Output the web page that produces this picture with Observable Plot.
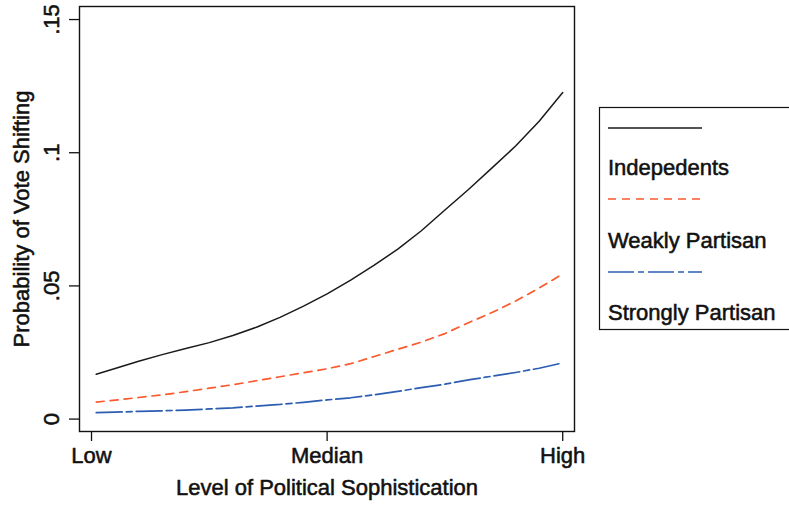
<!DOCTYPE html>
<html>
<head>
<meta charset="utf-8">
<script src="https://cdn.jsdelivr.net/npm/d3@7"></script>
<script src="https://cdn.jsdelivr.net/npm/@observablehq/plot@0.6"></script>
<style>
  html, body { margin: 0; padding: 0; background: #fff; }
  #wrap { position: relative; width: 789px; height: 505px; overflow: hidden; font-family: "Liberation Sans", Arial, sans-serif; }
  #legend { position: absolute; left: 0; top: 0; pointer-events: none; }
</style>
</head>
<body>
<div id="wrap"></div>
<script>
// Level of political sophistication (Low = 0, Median = 50, High = 100)
const sophistication = [1, 5, 10, 15, 20, 25, 30, 35, 40, 45, 50, 55, 60, 65, 70, 75, 80, 85, 90, 95, 100];
// Probability of vote shifting, by partisanship
const independents   = [0.0168, 0.0190, 0.0217, 0.0242, 0.0265, 0.0287, 0.0314, 0.0345, 0.0382, 0.0424, 0.0470, 0.0522, 0.0578, 0.0638, 0.0707, 0.0785, 0.0862, 0.0943, 0.1025, 0.1118, 0.1226];
const weaklyPartisan = [0.0064, 0.0071, 0.0081, 0.0091, 0.0103, 0.0116, 0.0129, 0.0144, 0.0159, 0.0174, 0.0189, 0.0208, 0.0235, 0.0262, 0.0289, 0.0321, 0.0362, 0.0400, 0.0443, 0.0492, 0.0545];
const stronglyPartisan = [0.0024, 0.0026, 0.0029, 0.0031, 0.0034, 0.0038, 0.0042, 0.0049, 0.0055, 0.0063, 0.0072, 0.0080, 0.0091, 0.0104, 0.0118, 0.0131, 0.0147, 0.0161, 0.0175, 0.0191, 0.0211];

const seriesNames = ["Indepedents", "Weakly Partisan", "Strongly Partisan"];
const seriesValues = [independents, weaklyPartisan, stronglyPartisan];

const xTickValues = [0, 50, 100];
const xTickLabels = ["Low", "Median", "High"];
const yTickValues = [0, 0.05, 0.1, 0.15];
const yTickLabels = ["0", ".05", ".1", ".15"];

const xTitle = "Level of Political Sophistication";
const yTitle = "Probability of Vote Shifting";

const styles = {
  "Indepedents":       {stroke: "#1a1a1a", dash: null, width: 1.5},
  "Weakly Partisan":   {stroke: "#fa5a2e", dash: "8,6", width: 1.7},
  "Strongly Partisan": {stroke: "#2c5db2", dash: "26,4,6,4", width: 1.7}
};

const rows = seriesNames.flatMap((name, s) =>
  sophistication.map((x, i) => ({series: name, x, y: seriesValues[s][i]}))
);

const W = 789, H = 505;
const frameL = 79, frameR = 574, frameT = 6, frameB = 431;
const font = "'Liberation Sans', Arial, sans-serif";
const ink = "#111";
const textStroke = {fill: ink, stroke: ink, strokeWidth: 0.55};

const chart = Plot.plot({
  width: W,
  height: H,
  marginLeft: frameL,
  marginRight: W - frameR,
  marginTop: frameT,
  marginBottom: H - frameB,
  style: {fontFamily: font, fontSize: "22px", color: ink, background: "white"},
  x: {domain: [-2.55, 102.5]},
  y: {domain: [-0.00466, 0.1549]},
  marks: [
    Plot.axisX(xTickValues, {tickSize: 10, tickFormat: () => "", stroke: ink, strokeWidth: 1.3, label: null}),
    Plot.axisY(yTickValues, {tickSize: 10, tickFormat: () => "", stroke: ink, strokeWidth: 1.3, label: null}),
    Plot.text(xTickValues, {x: d => d, text: (d, i) => xTickLabels[i], frameAnchor: "bottom", dy: 31, lineAnchor: "bottom", fontSize: 22, ...textStroke}),
    Plot.text(yTickValues, {y: d => d, text: (d, i) => yTickLabels[i], frameAnchor: "left", dx: -21, rotate: -90, textAnchor: "middle", lineAnchor: "bottom", fontSize: 22, ...textStroke}),
    Plot.text([xTitle], {text: d => d, frameAnchor: "bottom", dy: 63, lineAnchor: "bottom", fontSize: 22, ...textStroke}),
    Plot.text([yTitle], {text: d => d, frameAnchor: "left", dx: -51, rotate: -90, textAnchor: "middle", lineAnchor: "bottom", fontSize: 22, ...textStroke}),
    ...seriesNames.map(name =>
      Plot.line(rows.filter(r => r.series === name), {
        x: "x", y: "y",
        stroke: styles[name].stroke,
        strokeWidth: styles[name].width,
        strokeDasharray: styles[name].dash
      })
    ),
    Plot.frame({stroke: ink, strokeWidth: 1.4})
  ]
});

const wrap = document.getElementById("wrap");
wrap.appendChild(chart);

// Legend (Stata style, boxed, to the right of the plot)
const ns = "http://www.w3.org/2000/svg";
const leg = document.createElementNS(ns, "svg");
leg.setAttribute("id", "legend");
leg.setAttribute("width", W);
leg.setAttribute("height", H);
function el(tag, attrs, txt) {
  const e = document.createElementNS(ns, tag);
  for (const k in attrs) e.setAttribute(k, attrs[k]);
  if (txt != null) e.textContent = txt;
  leg.appendChild(e);
  return e;
}
el("rect", {x: 599.5, y: 107.5, width: 220, height: 222, fill: "white", stroke: ink, "stroke-width": 1.2});
const keyY = [128, 199, 272];
const labelY = [175, 248, 320];
seriesNames.forEach((name, i) => {
  const st = styles[name];
  const attrs = {x1: 608, x2: 702, y1: keyY[i], y2: keyY[i], stroke: st.stroke, "stroke-width": st.width};
  if (st.dash) attrs["stroke-dasharray"] = st.dash;
  el("line", attrs);
  el("text", {x: 608, y: labelY[i], "font-family": font, "font-size": 22, fill: ink, stroke: ink, "stroke-width": 0.55}, name);
});
wrap.appendChild(leg);
</script>
</body>
</html>
